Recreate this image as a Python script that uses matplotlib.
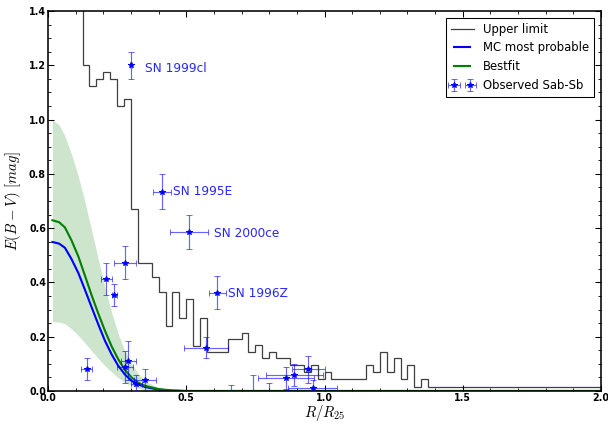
import numpy as np
import matplotlib
matplotlib.use('Agg')
import matplotlib.pyplot as plt
from matplotlib.ticker import MultipleLocator

plt.rcParams['mathtext.fontset'] = 'cm'

# upper-limit histogram: bins of width 0.025 in R/R25 from 0 to 2
bin_edges = np.arange(81) * 0.025
upper_limit = [1.6, 1.6, 1.6, 1.6, 1.6,
               1.20, 1.125, 1.15, 1.175, 1.15, 1.05, 1.075, 0.67,
               0.47, 0.47, 0.42, 0.365, 0.24, 0.365, 0.27, 0.34, 0.165,
               0.27, 0.145, 0.145, 0.145, 0.19, 0.19, 0.215, 0.145, 0.17,
               0.12, 0.145, 0.12, 0.12, 0.095, 0.095, 0.07, 0.095, 0.045,
               0.07, 0.045, 0.045, 0.045, 0.045, 0.045, 0.095, 0.07, 0.145,
               0.07, 0.12, 0.045, 0.095, 0.015, 0.045] + [0.015] * 25

# model curves
r_model = [0.016, 0.04, 0.061, 0.085, 0.11, 0.134, 0.158, 0.182, 0.206,
           0.23, 0.254, 0.278, 0.303, 0.327, 0.351, 0.40, 0.45, 0.50, 2.0]
mc_probable = [0.549, 0.543, 0.528, 0.486, 0.434, 0.372, 0.308, 0.245,
               0.185, 0.135, 0.093, 0.061, 0.037, 0.024, 0.015, 0.005,
               0.001, 0.0, 0.0]
bestfit = [0.629, 0.622, 0.603, 0.555, 0.495, 0.424, 0.352, 0.285, 0.222,
           0.165, 0.117, 0.078, 0.049, 0.030, 0.019, 0.007, 0.002, 0.0, 0.0]
band_hi = [0.999, 0.980, 0.940, 0.872, 0.790, 0.695, 0.592, 0.485, 0.382,
           0.290, 0.210, 0.148, 0.099, 0.063, 0.037, 0.012, 0.004, 0.0, 0.0]
band_lo = [0.256, 0.254, 0.248, 0.229, 0.204, 0.177, 0.148, 0.120, 0.093,
           0.070, 0.049, 0.032, 0.019, 0.010, 0.003, 0.0, 0.0, 0.0, 0.0]

# observed Sab-Sb supernovae
sn_r = [0.300, 0.413, 0.510, 0.612, 0.210, 0.240, 0.278, 0.140, 0.290,
        0.278, 0.320, 0.351, 0.571, 0.861, 0.891, 0.941, 0.957,
        0.662, 0.740, 0.800]
sn_e = [1.200, 0.734, 0.586, 0.362, 0.413, 0.354, 0.473, 0.080, 0.112,
        0.089, 0.024, 0.040, 0.160, 0.049, 0.059, 0.080, 0.010,
        -0.020, -0.020, -0.020]
sn_rerr = [0.005, 0.033, 0.070, 0.030, 0.020, 0.010, 0.040, 0.020, 0.027,
           0.028, 0.020, 0.041, 0.080, 0.100, 0.104, 0.060, 0.090,
           0.0, 0.0, 0.0]
sn_eerr = [0.050, 0.065, 0.063, 0.060, 0.058, 0.040, 0.060, 0.040, 0.073,
           0.060, 0.034, 0.040, 0.040, 0.040, 0.040, 0.050, 0.030,
           0.041, 0.079, 0.048]

sn_names = ['SN 1999cl', 'SN 1995E', 'SN 2000ce', 'SN 1996Z']
name_r = [0.351, 0.451, 0.600, 0.652]
name_e = [1.187, 0.734, 0.582, 0.360]

fig = plt.figure(figsize=(8, 425 / 76), dpi=76)
ax = fig.add_axes([48 / 608, 1 - 391 / 425, 553 / 608, 380 / 425])

ax.stairs(upper_limit, bin_edges, baseline=None, color='k', alpha=0.75,
          linewidth=1.2, label='Upper limit')
ax.fill_between(r_model, band_lo, band_hi, color='g', alpha=0.2, linewidth=0)
ax.plot(r_model, mc_probable, color='b', linewidth=2, label='MC most probable')
ax.plot(r_model, bestfit, color='g', linewidth=2, label='Bestfit')
ax.errorbar(sn_r, sn_e, xerr=sn_rerr, yerr=sn_eerr, fmt='*', color='b',
            ecolor=(0, 0, 1, 0.6), markersize=5.5, capsize=3, elinewidth=1.1,
            capthick=0.9, label='Observed Sab-Sb', zorder=4)

for name, r, e in zip(sn_names, name_r, name_e):
    ax.text(r, e, name, color='b', alpha=0.85, fontsize=11.5, va='center')

ax.set_xlim(0, 2.0)
ax.set_ylim(0, 1.4)
ax.xaxis.set_major_locator(MultipleLocator(0.5))
ax.xaxis.set_minor_locator(MultipleLocator(0.1))
ax.yaxis.set_major_locator(MultipleLocator(0.2))
ax.yaxis.set_minor_locator(MultipleLocator(0.05))
ax.tick_params(which='both', direction='in', top=True, right=True)
ax.tick_params(which='major', length=6, width=1, pad=2)
ax.tick_params(which='minor', length=3, width=0.8)
for lab in ax.get_xticklabels() + ax.get_yticklabels():
    lab.set_fontweight('bold')
    lab.set_fontsize(9)
for sp in ax.spines.values():
    sp.set_linewidth(1.5)

ax.set_xlabel(r'$R/R_{25}$', fontsize=14, labelpad=0)
ax.set_ylabel(r'$E(B-V)\ [mag]$', fontsize=14, labelpad=6)

leg = ax.legend(loc='upper right', numpoints=2, fontsize=11, fancybox=False,
                framealpha=1, edgecolor='k', borderaxespad=0.6)
leg.get_frame().set_linewidth(1)

fig.savefig('out.png', dpi=76)
